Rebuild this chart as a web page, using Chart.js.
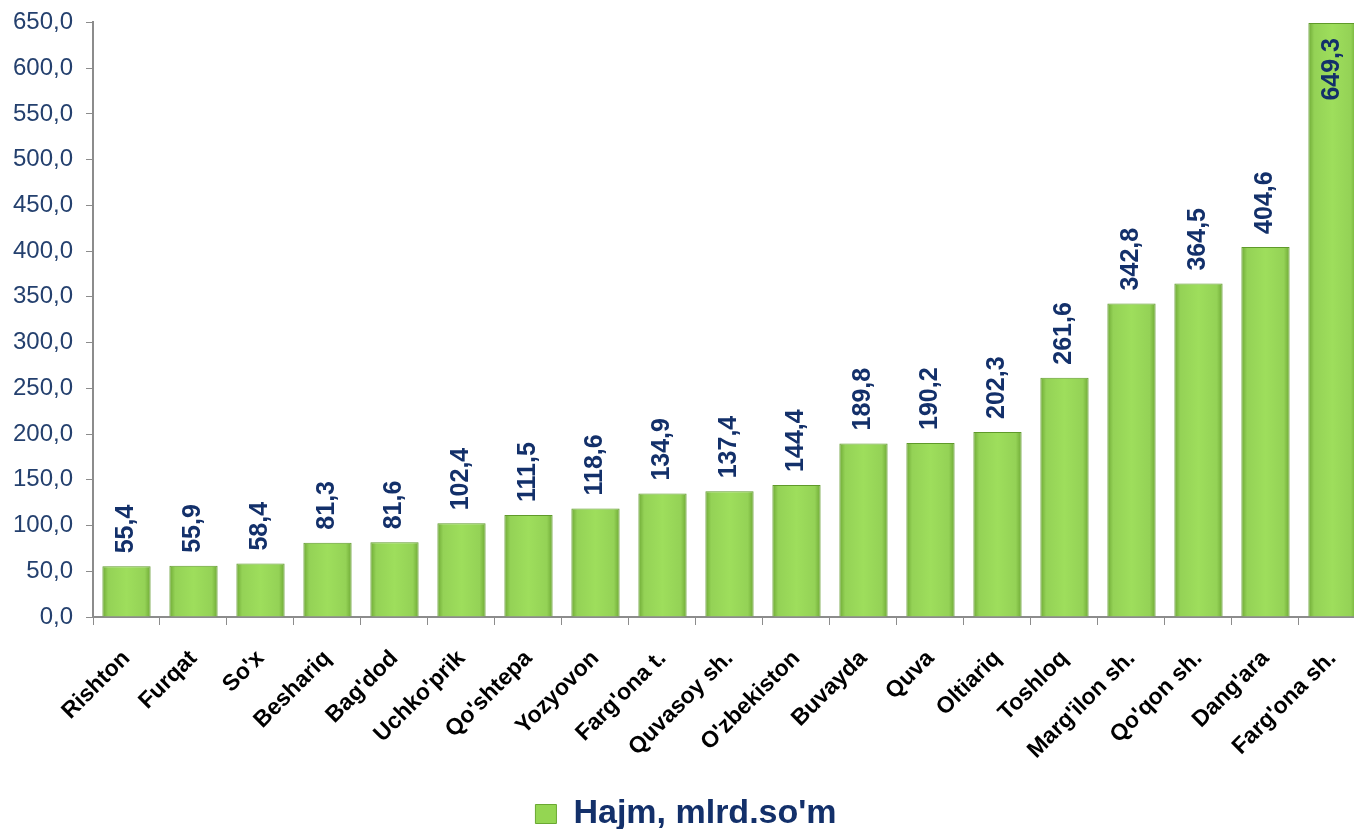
<!DOCTYPE html>
<html>
<head>
<meta charset="utf-8">
<script src="https://cdn.jsdelivr.net/npm/chart.js@4.4.1/dist/chart.umd.min.js"></script>
<style>
  html, body { margin: 0; padding: 0; background: #fff; overflow: hidden; }
  #wrap { width: 1372px; height: 834px; margin-top: -5px; }
</style>
</head>
<body>
<div id="wrap"><canvas id="chart" width="1372" height="834"></canvas></div>
<script>
// districts and volume (mlrd. so'm)
var districts = ["Rishton", "Furqat", "So'x", "Beshariq", "Bag'dod", "Uchko'prik", "Qo'shtepa",
                 "Yozyovon", "Farg'ona t.", "Quvasoy sh.", "O'zbekiston", "Buvayda", "Quva",
                 "Oltiariq", "Toshloq", "Marg'ilon sh.", "Qo'qon sh.", "Dang'ara", "Farg'ona sh."];
var volumes = [55.4, 55.9, 58.4, 81.3, 81.6, 102.4, 111.5, 118.6, 134.9, 137.4, 144.4,
               189.8, 190.2, 202.3, 261.6, 342.8, 364.5, 404.6, 649.3];
var seriesName = "Hajm, mlrd.so'm";
var yTicks = [0, 50, 100, 150, 200, 250, 300, 350, 400, 450, 500, 550, 600, 650];

var FONT = "'Liberation Sans', Arial, sans-serif";
var NAVY = '#13306a';
var BAR_PCT = 0.72;

function fmt(v) { return v.toFixed(1).replace('.', ','); }

// horizontal gradient per bar so it looks like the bevelled Excel bars
function barFill(c) {
    var chart = c.chart;
    var xs = chart.scales.x;
    if (!xs || !chart.chartArea) return '#92d050';
    var cx = xs.getPixelForValue(c.dataIndex);
    var hw = xs.width / districts.length * BAR_PCT / 2;
    var g = chart.ctx.createLinearGradient(cx - hw, 0, cx + hw, 0);
    g.addColorStop(0, '#6ea935');
    g.addColorStop(0.12, '#94d256');
    g.addColorStop(0.5, '#9ede5c');
    g.addColorStop(0.88, '#94d256');
    g.addColorStop(1, '#6ea935');
    return g;
}

var valueLabels = {
    id: 'valueLabels',
    afterDatasetsDraw: function(chart) {
        var ctx = chart.ctx;
        var meta = chart.getDatasetMeta(0);
        ctx.save();
        ctx.font = 'bold 25px ' + FONT;
        ctx.fillStyle = NAVY;
        ctx.textBaseline = 'middle';
        meta.data.forEach(function(bar, i) {
            var txt = fmt(volumes[i]);
            var w = ctx.measureText(txt).width;
            ctx.save();
            if (bar.y - chart.chartArea.top > w + 16) {
                ctx.translate(bar.x, bar.y - 13);
                ctx.rotate(-Math.PI / 2);
                ctx.textAlign = 'left';
            } else {
                ctx.translate(bar.x, bar.y + 15);
                ctx.rotate(-Math.PI / 2);
                ctx.textAlign = 'right';
            }
            ctx.fillText(txt, 0, 0);
            ctx.restore();
        });
        ctx.restore();
    }
};

new Chart(document.getElementById('chart'), {
    type: 'bar',
    data: {
        labels: districts,
        datasets: [{
            label: seriesName,
            data: volumes,
            backgroundColor: barFill,
            borderColor: '#5f9a2a',
            borderWidth: 1,
            borderSkipped: 'bottom',
            barPercentage: BAR_PCT,
            categoryPercentage: 1
        }]
    },
    options: {
        responsive: false,
        animation: false,
        layout: { padding: { top: 8, right: 0, left: 0, bottom: -12 } },
        plugins: {
            tooltip: { enabled: false },
            legend: {
                position: 'bottom',
                labels: {
                    font: { family: FONT, size: 34, weight: 'bold' },
                    color: NAVY,
                    boxWidth: 21,
                    boxHeight: 19,
                    padding: 2,
                    generateLabels: function() {
                        return [{ text: seriesName, fillStyle: '#94d652', strokeStyle: '#6aa832', lineWidth: 1, fontColor: NAVY, datasetIndex: 0 }];
                    }
                }
            }
        },
        scales: {
            x: {
                grid: { display: true, drawOnChartArea: false, drawTicks: true, tickLength: 8, color: '#8c8c8c', offset: true },
                border: { color: '#8c8c8c', width: 2 },
                ticks: {
                    font: { family: FONT, size: 23, weight: 'bold' },
                    color: '#000',
                    maxRotation: 45,
                    minRotation: 45,
                    autoSkip: false,
                    padding: 20
                },
                afterFit: function(axis) { axis.height = 178; }
            },
            y: {
                min: 0,
                max: 650,
                afterBuildTicks: function(axis) { axis.ticks = yTicks.map(function(v) { return { value: v }; }); },
                grid: { display: true, drawOnChartArea: false, drawTicks: true, tickLength: 7, color: '#8c8c8c' },
                border: { color: '#8c8c8c', width: 2 },
                ticks: {
                    font: { family: FONT, size: 24 },
                    color: '#24406e',
                    padding: 13,
                    callback: function(v) { return fmt(v); }
                },
                afterFit: function(axis) { axis.width = 93; }
            }
        }
    },
    plugins: [valueLabels]
});
</script>
</body>
</html>
